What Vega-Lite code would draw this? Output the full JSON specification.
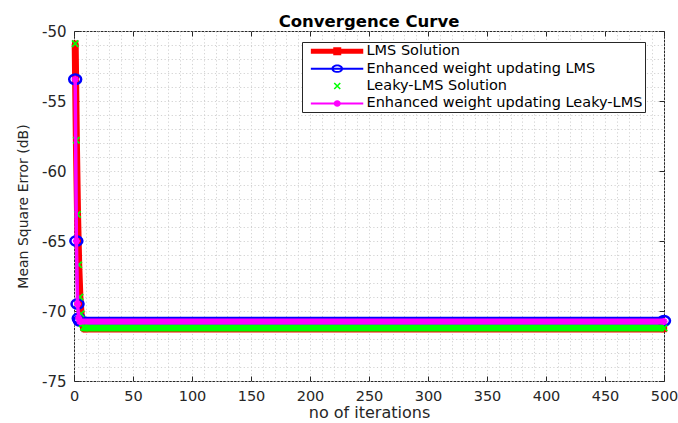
{
  "$schema": "https://vega.github.io/schema/vega-lite/v6.json",
  "width": 590,
  "height": 350,
  "autosize": {"type": "none"},
  "padding": {"left": 74, "top": 31, "right": 14, "bottom": 42},
  "background": "white",
  "config": {
    "view": {"stroke": "#262626", "strokeWidth": 1},
    "font": "DejaVu Sans",
    "axis": {
      "labelFont": "DejaVu Sans",
      "titleFont": "DejaVu Sans",
      "labelColor": "#262626",
      "titleColor": "#262626",
      "titleFontWeight": "normal",
      "tickColor": "#262626",
      "domain": false
    }
  },
  "title": {
    "text": "Convergence Curve",
    "font": "DejaVu Sans",
    "fontSize": 16.5,
    "fontWeight": "bold",
    "color": "#000000",
    "anchor": "middle",
    "baseline": "alphabetic",
    "offset": -19
  },
  "data": {
    "values": [
      {"series": "LMS Solution", "it": 1, "mse": -50.9, "flat": false},
      {"series": "LMS Solution", "it": 2, "mse": -57.8, "flat": false},
      {"series": "LMS Solution", "it": 3, "mse": -63.1, "flat": false},
      {"series": "LMS Solution", "it": 4, "mse": -66.7, "flat": false},
      {"series": "LMS Solution", "it": 5, "mse": -69.0, "flat": false},
      {"series": "LMS Solution", "it": 6, "mse": -70.2, "flat": false},
      {"series": "LMS Solution", "it": 7, "mse": -70.9, "flat": false},
      {"series": "LMS Solution", "it": 8, "mse": -71.2, "flat": false},
      {"series": "LMS Solution", "it": 9, "mse": -71.29, "flat": false},
      {"series": "LMS Solution", "it": 500, "mse": -71.29, "flat": false},
      {"series": "Enhanced weight updating LMS", "it": 1, "mse": -53.45, "flat": false},
      {"series": "Enhanced weight updating LMS", "it": 2, "mse": -65.0, "flat": false},
      {"series": "Enhanced weight updating LMS", "it": 3, "mse": -69.5, "flat": false},
      {"series": "Enhanced weight updating LMS", "it": 4, "mse": -70.52, "flat": false},
      {"series": "Enhanced weight updating LMS", "it": 5, "mse": -70.7, "flat": true},
      {"series": "Enhanced weight updating LMS", "it": 500, "mse": -70.7, "flat": true},
      {"series": "Leaky-LMS Solution", "it": 1, "mse": -50.9, "flat": false},
      {"series": "Leaky-LMS Solution", "it": 2, "mse": -57.8, "flat": false},
      {"series": "Leaky-LMS Solution", "it": 3, "mse": -63.1, "flat": false},
      {"series": "Leaky-LMS Solution", "it": 4, "mse": -66.7, "flat": false},
      {"series": "Leaky-LMS Solution", "it": 5, "mse": -69.0, "flat": false},
      {"series": "Leaky-LMS Solution", "it": 6, "mse": -70.2, "flat": false},
      {"series": "Leaky-LMS Solution", "it": 7, "mse": -70.9, "flat": false},
      {"series": "Leaky-LMS Solution", "it": 8, "mse": -71.15, "flat": true},
      {"series": "Leaky-LMS Solution", "it": 9, "mse": -71.21, "flat": true},
      {"series": "Leaky-LMS Solution", "it": 500, "mse": -71.21, "flat": true},
      {"series": "Enhanced weight updating Leaky-LMS", "it": 1, "mse": -53.45, "flat": false},
      {"series": "Enhanced weight updating Leaky-LMS", "it": 2, "mse": -65.0, "flat": false},
      {"series": "Enhanced weight updating Leaky-LMS", "it": 3, "mse": -69.5, "flat": false},
      {"series": "Enhanced weight updating Leaky-LMS", "it": 4, "mse": -70.5, "flat": false},
      {"series": "Enhanced weight updating Leaky-LMS", "it": 5, "mse": -70.75, "flat": true},
      {"series": "Enhanced weight updating Leaky-LMS", "it": 500, "mse": -70.75, "flat": true}
    ]
  },
  "layer": [
    {
      "encoding": {
        "x": {
          "field": "it",
          "type": "quantitative",
          "scale": {"domain": [0, 500], "nice": false, "zero": false},
          "axis": {
            "orient": "bottom",
            "values": [0,10,20,30,40,50,60,70,80,90,100,110,120,130,140,150,160,170,180,190,200,210,220,230,240,250,260,270,280,290,300,310,320,330,340,350,360,370,380,390,400,410,420,430,440,450,460,470,480,490,500],
            "labelExpr": "datum.value % 50 === 0 ? '' + datum.value : ''",
            "labelFontSize": 14.5,
            "labelPadding": 13,
            "labelFlush": false,
            "labelOverlap": false,
            "tickSize": -5,
            "tickOpacity": {"condition": {"test": "datum.value % 50 === 0", "value": 1}, "value": 0},
            "grid": true,
            "gridColor": "#d2d2d2",
            "gridDash": [1.2, 2.4],
            "title": "no of iterations",
            "titleFontSize": 16,
            "titlePadding": 2
          }
        },
        "y": {
          "field": "mse",
          "type": "quantitative",
          "scale": {"domain": [-75, -50], "nice": false, "zero": false},
          "axis": {
            "orient": "left",
            "values": [-75,-74,-73,-72,-71,-70,-69,-68,-67,-66,-65,-64,-63,-62,-61,-60,-59,-58,-57,-56,-55,-54,-53,-52,-51,-50],
            "labelExpr": "datum.value % 5 === 0 ? '' + datum.value : ''",
            "labelFontSize": 15,
            "labelPadding": 13,
            "labelFlush": false,
            "labelOverlap": false,
            "tickSize": -5,
            "tickOpacity": {"condition": {"test": "datum.value % 5 === 0", "value": 1}, "value": 0},
            "grid": true,
            "gridColor": "#d2d2d2",
            "gridDash": [1.2, 2.4],
            "title": "Mean Square Error (dB)",
            "titleFontSize": 14,
            "titlePadding": 11
          }
        }
      },
      "layer": [
        {
          "transform": [{"filter": {"field": "series", "equal": "LMS Solution"}}],
          "mark": {"type": "line", "color": "#ff0000", "strokeWidth": 7, "strokeCap": "butt"}
        },
        {
          "transform": [{"filter": {"field": "series", "equal": "LMS Solution"}}],
          "mark": {"type": "point", "shape": "square", "filled": true, "color": "#ff0000", "size": 40, "opacity": 1}
        },
        {
          "transform": [{"filter": {"field": "series", "equal": "Enhanced weight updating LMS"}}],
          "mark": {"type": "line", "color": "#0000ff", "strokeWidth": 2.5}
        },
        {
          "transform": [{"filter": {"and": [{"field": "series", "equal": "Enhanced weight updating LMS"}, {"field": "flat", "equal": true}]}}],
          "mark": {"type": "line", "color": "#0000ff", "strokeWidth": 8, "strokeCap": "butt"}
        },
        {
          "transform": [{"filter": {"field": "series", "equal": "Enhanced weight updating LMS"}}],
          "mark": {"type": "point", "shape": "M-1,0A1,0.8 0 1,1 1,0A1,0.8 0 1,1 -1,0Z", "filled": false, "color": "#0000ff", "strokeWidth": 2.5, "size": 144, "opacity": 1}
        },
        {
          "transform": [{"filter": {"and": [{"field": "series", "equal": "Leaky-LMS Solution"}, {"field": "flat", "equal": true}]}}],
          "mark": {"type": "line", "color": "#00ff00", "strokeWidth": 7, "strokeCap": "butt"}
        },
        {
          "transform": [{"filter": {"field": "series", "equal": "Leaky-LMS Solution"}}],
          "mark": {"type": "point", "shape": "M-1,-1L1,1M-1,1L1,-1", "filled": false, "color": "#00ff00", "strokeWidth": 1.8, "size": 40, "opacity": 1}
        },
        {
          "transform": [{"filter": {"field": "series", "equal": "Enhanced weight updating Leaky-LMS"}}],
          "mark": {"type": "line", "color": "#ff00ff", "strokeWidth": 3.5}
        },
        {
          "transform": [{"filter": {"and": [{"field": "series", "equal": "Enhanced weight updating Leaky-LMS"}, {"field": "flat", "equal": true}]}}],
          "mark": {"type": "line", "color": "#ff00ff", "strokeWidth": 6, "strokeCap": "butt"}
        },
        {
          "transform": [{"filter": {"field": "series", "equal": "Enhanced weight updating Leaky-LMS"}}],
          "mark": {"type": "point", "shape": "M-1,0H1M0,-1V1M-0.7,-0.7L0.7,0.7M-0.7,0.7L0.7,-0.7", "filled": false, "color": "#ff00ff", "strokeWidth": 2, "size": 49, "opacity": 1}
        }
      ]
    },
    {
      "transform": [{"filter": "false"}],
      "mark": {"type": "point", "filled": true},
      "encoding": {
        "x": {
          "field": "it",
          "type": "quantitative",
          "scale": {"domain": [0, 500], "nice": false, "zero": false},
          "axis": {"orient": "top", "values": [0,50,100,150,200,250,300,350,400,450,500], "labels": false, "tickSize": -5, "grid": false, "title": null}
        },
        "y": {
          "field": "mse",
          "type": "quantitative",
          "scale": {"domain": [-75, -50], "nice": false, "zero": false},
          "axis": {"orient": "right", "values": [-75,-70,-65,-60,-55,-50], "labels": false, "tickSize": -5, "grid": false, "title": null}
        },
        "color": {
          "field": "series",
          "type": "nominal",
          "scale": {
            "domain": ["LMS Solution", "Enhanced weight updating LMS", "Leaky-LMS Solution", "Enhanced weight updating Leaky-LMS"],
            "range": ["#ff0000", "#0000ff", "#00ff00", "#ff00ff"]
          },
          "legend": {
            "orient": "none", "legendX": 228, "legendY": 11, "title": null,
            "padding": 2, "strokeColor": "#262626", "fillColor": "#ffffff",
            "labelFont": "DejaVu Sans", "labelFontSize": 14.5, "labelColor": "#000000",
            "labelOffset": 48, "symbolSize": 64, "rowPadding": 2.4, "symbolStrokeWidth": 0,
            "symbolOpacity": 1, "labelLimit": 400
          }
        },
        "shape": {
          "field": "series",
          "type": "nominal",
          "scale": {
            "domain": ["LMS Solution", "Enhanced weight updating LMS", "Leaky-LMS Solution", "Enhanced weight updating Leaky-LMS"],
            "range": [
              "M-0.1,-0.6H13V0.6H-0.1Z M5.5,-1H7.5V1H5.5Z",
              "M-0.1,-0.25H13V0.25H-0.1Z M5.05,0A1.45,1.05 0 1,1 7.95,0A1.45,1.05 0 1,1 5.05,0Z M5.55,0A0.95,0.6 0 1,0 7.45,0A0.95,0.6 0 1,0 5.55,0Z",
              "M5.884,-0.884L7.384,0.616L7.116,0.884L5.616,-0.616Z M5.616,0.616L7.116,-0.884L7.384,-0.616L5.884,0.884Z",
              "M-0.1,-0.25H13V0.25H-0.1Z M5.6,0A0.9,0.8 0 1,1 7.4,0A0.9,0.8 0 1,1 5.6,0Z"
            ]
          },
          "legend": {
            "orient": "none", "legendX": 228, "legendY": 11, "title": null,
            "padding": 2, "strokeColor": "#262626", "fillColor": "#ffffff",
            "labelFont": "DejaVu Sans", "labelFontSize": 14.5, "labelColor": "#000000",
            "labelOffset": 48, "symbolSize": 64, "rowPadding": 2.4, "symbolStrokeWidth": 0,
            "symbolOpacity": 1, "labelLimit": 400
          }
        }
      }
    }
  ],
  "resolve": {"axis": {"x": "independent", "y": "independent"}}
}
